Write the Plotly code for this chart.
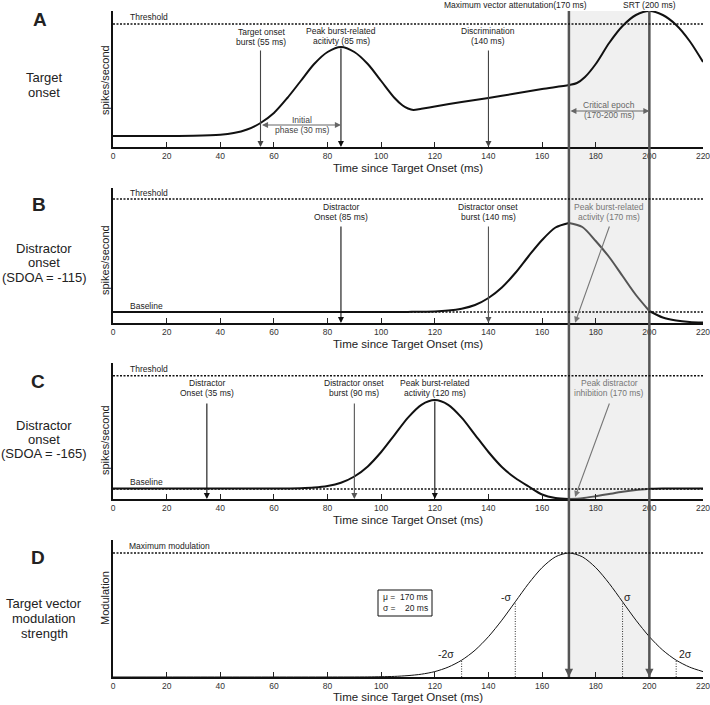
import plotly.graph_objects as go

W, H = 710, 705

# ---------------- data ----------------
tick_vals = [0, 20, 40, 60, 80, 100, 120, 140, 160, 180, 200, 220]

time_A = [0, 10, 20, 30, 40, 45, 50, 55, 60, 65, 70, 75, 80, 85, 90, 95, 100, 105, 108, 110, 112,
          115, 120, 130, 140, 150, 160, 170, 173, 176, 180, 185, 190, 195, 200, 205, 210, 215, 220]
rate_A = [11, 11, 11, 11.2, 12.2, 13.9, 17.5, 24, 34, 49, 66, 83, 95, 100, 95, 83, 66, 49, 41.5, 38.5, 37,
          38.3, 40.5, 45, 49, 53.5, 58, 62, 64, 70, 83, 104, 121, 132, 136, 132, 122, 106, 85]

time_B = [0, 20, 40, 60, 80, 100, 110, 120, 125, 130, 135, 140, 145, 150, 155, 160, 165, 170,
          175, 180, 185, 190, 195, 200, 205, 210, 215, 220]
rate_B = [11, 11, 11, 11, 11, 11, 11.1, 11.5, 12.4, 14.3, 18, 25, 35.5, 50, 67, 83, 95.5, 100,
          96, 82, 66, 47, 28, 12, 5.5, 2.5, 1, 0.5]

time_C = [0, 20, 40, 60, 70, 75, 80, 85, 90, 95, 100, 105, 110, 115, 120, 125, 130, 135, 140,
          145, 150, 155, 160, 165, 170, 175, 180, 185, 190, 195, 200, 205, 210, 220]
rate_C = [10.5, 10.5, 10.5, 10.5, 10.85, 11.5, 13.05, 16.3, 22.5, 32.6, 47, 64.2, 81.4, 94.2, 99,
          94.2, 81.4, 64.2, 47, 32, 21, 12.5, 4.5, 1, 0, 0.8, 2.8, 5, 7.2, 9, 10.2, 10.5, 10.5, 10.5]

time_D = [0, 20, 40, 60, 80, 95, 100, 105, 110, 115, 120, 125, 130, 135, 140, 145, 150, 155, 160,
          165, 170, 175, 180, 185, 190, 195, 200, 205, 210, 215, 220]
mod_D = [0, 0, 0, 0, 0, 0.1, 0.3, 0.6, 1.4, 2.8, 5.4, 9.9, 16.8, 26.8, 40.3, 56.8, 75.2, 93.6, 109.4,
         120.2, 124, 120.2, 109.4, 93.6, 75.2, 56.8, 40.3, 26.8, 16.8, 9.9, 5.4]

threshold_A = 123
threshold_B = 124
threshold_C = 123.3
baseline_B = 11
baseline_C = 10
max_modulation_D = 124

critical_epoch = [170, 200]

events_A = [55, 85, 140]
events_A_tail = [98, 100, 98]
events_B = [85, 140]
events_B_tail = [98, 98]
events_C = [35, 90, 120]
events_C_tail = [97, 97, 99]

sigma_times = [130, 150, 190, 210]
sigma_heights = [16.8, 75.2, 75.2, 16.8]
sigma_labels = ["-2σ", "-σ", "σ", "2σ"]

# ---------------- layout helpers ----------------
FONT = "Liberation Sans, Arial, Helvetica, sans-serif"


def px(x):
    return x / W


def py(y):
    return 1 - y / H


# panel pixel extents (top, bottom) and y ranges
panels = [
    (11, 147, 136),
    (188, 323, 135),
    (363, 499, 136),
    (540, 677, 137),
]
x_left, x_right = 113, 703

fig = go.Figure()
layout = dict(
    width=W, height=H, autosize=False, margin=dict(l=0, r=0, t=0, b=0),
    paper_bgcolor="white", plot_bgcolor="rgba(0,0,0,0)",
    showlegend=False, font=dict(family=FONT, color="#222"),
)
for i, (top, bot, yr) in enumerate(panels, start=1):
    sx = "" if i == 1 else str(i)
    layout["xaxis" + sx] = dict(
        domain=[px(x_left), px(x_right)], range=[0, 220], anchor="y" + sx, automargin=False,
        tickvals=tick_vals, ticks="inside", ticklen=5, tickwidth=1, tickcolor="#222",
        showline=True, linecolor="#111", linewidth=1.5, showgrid=False, zeroline=False,
        tickfont=dict(size=8.5, color="#333", family=FONT), ticklabeloverflow="allow",
    )
    layout["yaxis" + sx] = dict(
        domain=[py(bot), py(top)], range=[0, yr], anchor="x" + sx, automargin=False,
        showline=True, linecolor="#111", linewidth=1.5, showgrid=False, zeroline=False,
        showticklabels=False, ticks="",
    )
fig.update_layout(**layout)

shapes = []
annotations = []


def text(x, y, s, size=8.5, color="#222", xanchor="center", bold=False, angle=0):
    annotations.append(dict(
        x=px(x), y=py(y), xref="paper", yref="paper", text=("<b>%s</b>" % s) if bold else s,
        showarrow=False, xanchor=xanchor, yanchor="middle", textangle=angle,
        font=dict(size=size, color=color, family=FONT),
    ))


def arrow(ax_id, x_tail, y_tail, x_head, y_head, color="#222", width=1.1, both=False):
    annotations.append(dict(
        x=x_head, y=y_head, ax=x_tail, ay=y_tail,
        xref="x" + ax_id, yref="y" + ax_id, axref="x" + ax_id, ayref="y" + ax_id,
        text="", showarrow=True, arrowhead=2, arrowsize=1.1, arrowwidth=width,
        arrowcolor=color, standoff=0, startstandoff=0,
        arrowside="end+start" if both else "end", startarrowhead=2, startarrowsize=1.1,
    ))


def hline(ax_id, yv, dash="2px,1.5px", width=1.5):
    shapes.append(dict(type="line", xref="x" + ax_id, yref="y" + ax_id, x0=0, x1=220,
                       y0=yv, y1=yv, line=dict(color="#111", width=width, dash=dash)))


# shaded critical epoch and its bounding lines
top_px, bot_px = 11, 677
shapes.append(dict(type="rect", xref="x", yref="paper", x0=critical_epoch[0], x1=critical_epoch[1],
                   y0=py(bot_px), y1=py(top_px), fillcolor="#f0f0f0", line=dict(width=0),
                   layer="below"))
for t in critical_epoch:
    shapes.append(dict(type="line", xref="x", yref="paper", x0=t, x1=t,
                       y0=py(bot_px), y1=py(top_px), line=dict(color="#555", width=2.5),
                       layer="above"))
    arrow("4", t, 18, t, 0, color="#555", width=1.5)

# reference lines
hline("", threshold_A)
hline("2", threshold_B)
hline("2", baseline_B)
hline("3", threshold_C)
hline("3", baseline_C)
hline("4", max_modulation_D)

# ---------------- curves ----------------
def seg(t, v, lo, hi):
    xs, ys = [], []
    for a, b in zip(t, v):
        if lo <= a <= hi:
            xs.append(a)
            ys.append(b)
    return xs, ys


fig.add_trace(go.Scatter(x=time_A, y=rate_A, mode="lines", line=dict(color="#111", width=2, shape="spline", smoothing=0.8),
                         xaxis="x", yaxis="y", hoverinfo="skip", cliponaxis=False))
for ax_id, t, v in (("2", time_B, rate_B), ("3", time_C, rate_C)):
    for lo, hi, col in ((0, 170, "#111"), (170, 200, "#555"), (200, 220, "#111")):
        xs, ys = seg(t, v, lo, hi)
        fig.add_trace(go.Scatter(x=xs, y=ys, mode="lines",
                                 line=dict(color=col, width=2, shape="spline", smoothing=0.8),
                                 xaxis="x" + ax_id, yaxis="y" + ax_id, hoverinfo="skip"))
fig.add_trace(go.Scatter(x=time_D, y=mod_D, mode="lines", line=dict(color="#111", width=1, shape="spline", smoothing=0.8),
                         xaxis="x4", yaxis="y4", hoverinfo="skip"))

# sigma markers in D
for t, h in zip(sigma_times, sigma_heights):
    fig.add_trace(go.Scatter(x=[t, t], y=[0, h], mode="lines",
                             line=dict(color="#333", width=1, dash="1px,1.5px"),
                             xaxis="x4", yaxis="y4", hoverinfo="skip"))

# ---------------- event arrows ----------------
arrow_cols_A = ["#444", "#111", "#444"]
for t, tail, c in zip(events_A, events_A_tail, arrow_cols_A):
    arrow("", t, tail, t, 0, color=c)
arrow("", events_A[0], 22, events_A[1], 22, color="#666", both=True)
arrow("", critical_epoch[0], 36, critical_epoch[1], 36, color="#666", both=True)

for t, tail, c in zip(events_B, events_B_tail, ["#111", "#555"]):
    arrow("2", t, tail, t, 0, color=c)
arrow("2", 185.3, 98, 172.3, 0.3, color="#777")

for t, tail, c in zip(events_C, events_C_tail, ["#111", "#555", "#111"]):
    arrow("3", t, tail, t, 0, color=c)
arrow("3", 185.3, 97, 172.3, 2, color="#777")

# ---------------- texts ----------------
# panel A
text(128, 17, "Threshold", xanchor="left")
text(261, 32, "Target onset"); text(261, 42, "burst (55 ms)")
text(341, 31, "Peak burst-related"); text(341, 41, "acitivty (85 ms)")
text(488, 31, "Discrimination"); text(488, 41, "(140 ms)")
text(302, 120, "Initial", color="#444"); text(302, 130, "phase (30 ms)", color="#444")
text(609, 105, "Critical epoch", color="#666"); text(609, 115, "(170-200 ms)", color="#666")
text(589, 5, "Maximum vector attenutation(170 ms)", xanchor="right")
text(649, 5, "SRT (200 ms)")
# panel B
text(128, 193, "Threshold", xanchor="left")
text(128, 306, "Baseline", xanchor="left")
text(341, 207, "Distractor"); text(341, 217, "Onset (85 ms)")
text(488, 207, "Distractor onset"); text(488, 217, "burst (140 ms)")
text(609, 207, "Peak burst-related", color="#777"); text(609, 217, "activity (170 ms)", color="#777")
# panel C
text(128, 369, "Threshold", xanchor="left")
text(128, 482, "Baseline", xanchor="left")
text(207, 383, "Distractor"); text(207, 393, "Onset (35 ms)")
text(354, 383, "Distractor onset"); text(354, 393, "burst (90 ms)")
text(435, 383, "Peak burst-related"); text(435, 393, "activity (120 ms)")
text(609, 383, "Peak distractor", color="#777"); text(609, 393, "inhibition (170 ms)", color="#777")
# panel D
text(127, 546, "Maximum modulation", xanchor="left")
shapes.append(dict(type="rect", xref="paper", yref="paper", x0=px(378), x1=px(432),
                   y0=py(616), y1=py(590), line=dict(color="#111", width=1), fillcolor="white"))
text(381, 597, "μ =", xanchor="left"); text(430, 597, "170 ms", xanchor="right")
text(381, 608, "σ =", xanchor="left"); text(430, 608, "20 ms", xanchor="right")
for lab, xx, yy, anc in zip(sigma_labels, [456, 513, 622, 677], [654, 597, 597, 654],
                            ["right", "right", "left", "left"]):
    text(xx, yy, lab, size=10.5, xanchor=anc)

# axis titles
for yy in (168, 344, 520, 697):
    text(408, yy, "Time since Target Onset (ms)", size=11.5)
for yy, s in ((80, "spikes/second"), (260, "spikes/second"), (440, "spikes/second"), (598, "Modulation")):
    text(105, yy, s, size=11, angle=-90)

# left panel labels
text(40, 19, "A", size=19, bold=True)
text(44, 78, "Target", size=13); text(44, 93, "onset", size=13)
text(39, 205, "B", size=19, bold=True)
text(44, 248, "Distractor", size=13); text(44, 262, "onset", size=13); text(44, 277, "(SDOA = -115)", size=13)
text(38, 381, "C", size=19, bold=True)
text(44, 425, "Distractor", size=13); text(44, 439, "onset", size=13); text(44, 453, "(SDOA = -165)", size=13)
text(38, 557, "D", size=19, bold=True)
text(44, 603, "Target vector", size=13); text(44, 618, "modulation", size=13); text(44, 633, "strength", size=13)

fig.update_layout(shapes=shapes, annotations=annotations)
fig.write_html("out.html", config={"displayModeBar": False, "responsive": False},
               post_script="document.body.style.margin='0';")
